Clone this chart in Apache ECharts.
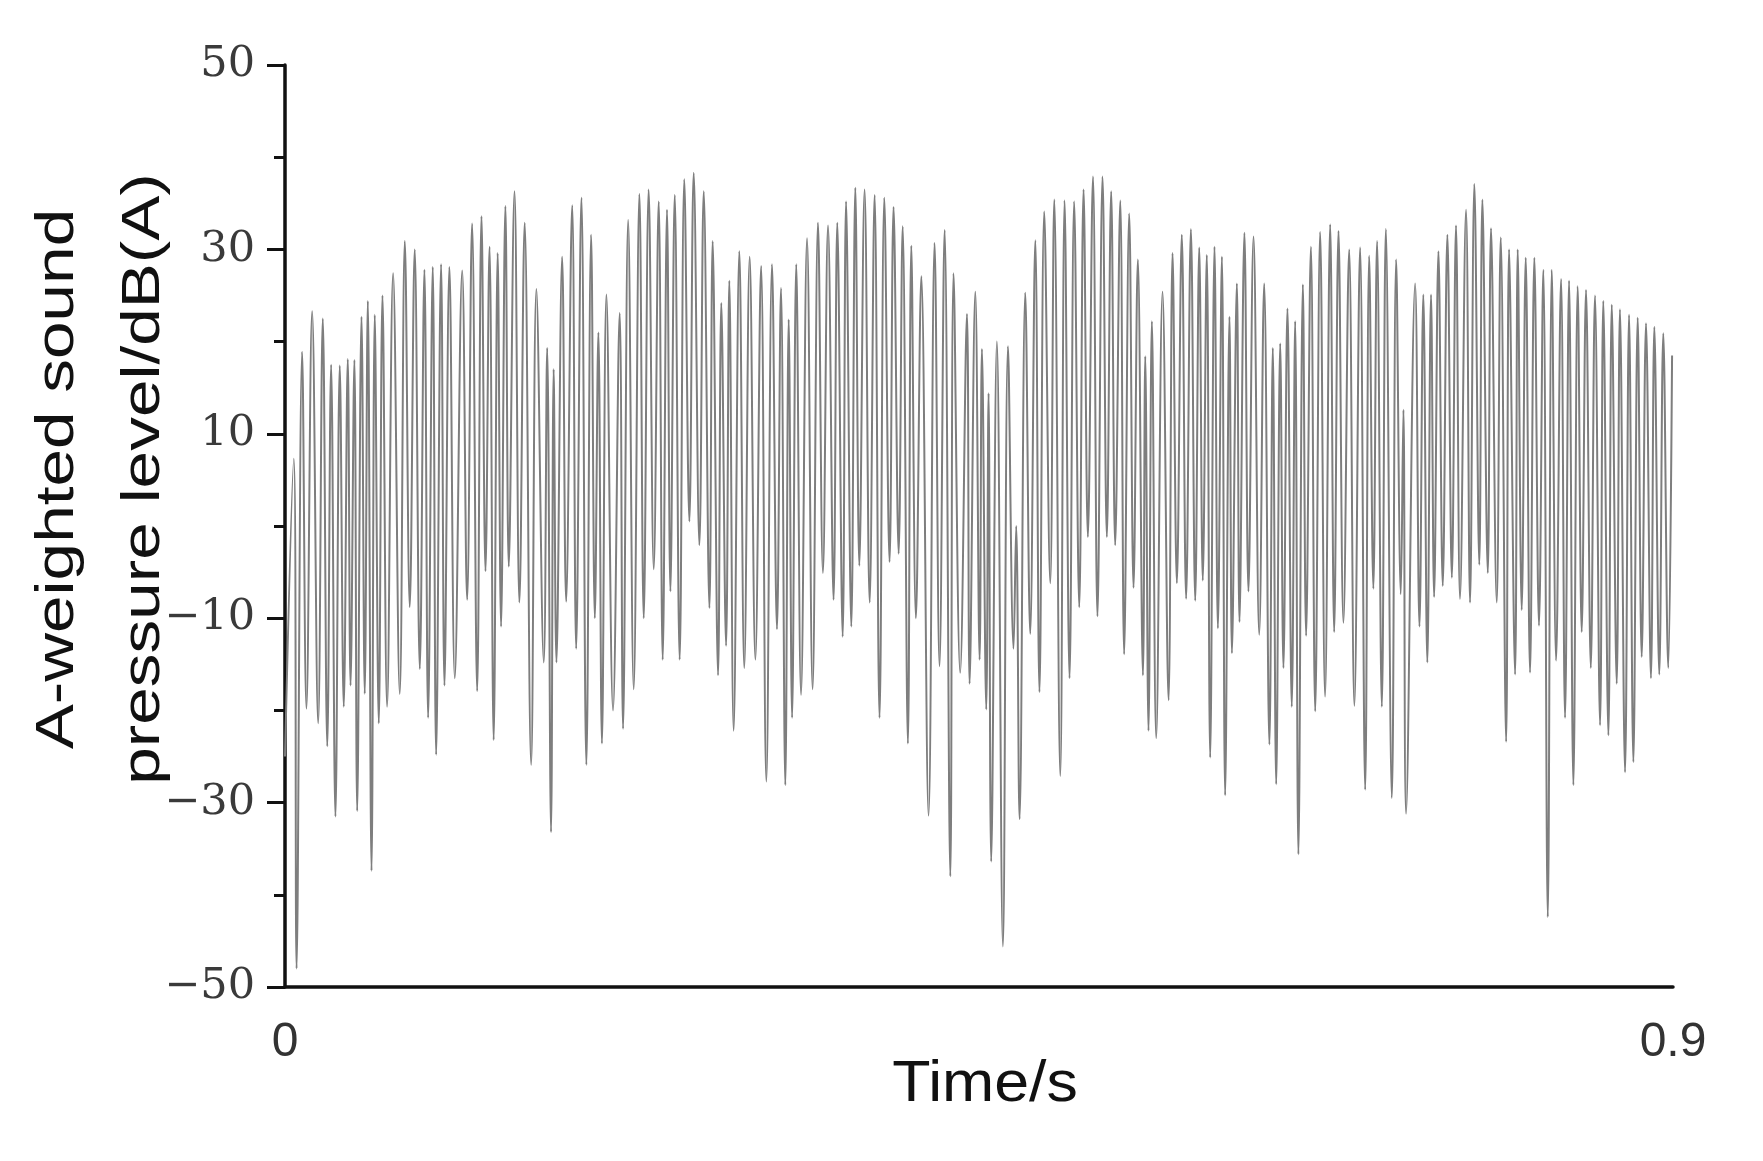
<!DOCTYPE html>
<html><head><meta charset="utf-8">
<script src="https://cdn.jsdelivr.net/npm/echarts@6/dist/echarts.min.js"></script>
<style>html,body{margin:0;padding:0;background:#fff}#c{width:1763px;height:1161px}</style>
</head><body><div id="c"></div>
<script>
// Turning points of the waveform (time in s)
const times = [
0.0000,0.0057,0.0075,0.0111,0.0139,0.0176,0.0215,0.0245,0.0274,0.0299,
0.0327,0.0355,0.0381,0.0407,0.0425,0.0450,0.0468,0.0496,0.0517,0.0537,
0.0561,0.0582,0.0608,0.0632,0.0662,0.0701,0.0744,0.0777,0.0809,0.0841,
0.0874,0.0904,0.0928,0.0958,0.0980,0.1012,0.1034,0.1066,0.1101,0.1149,
0.1181,0.1213,0.1246,0.1274,0.1300,0.1326,0.1353,0.1379,0.1401,0.1429,
0.1451,0.1488,0.1520,0.1554,0.1596,0.1630,0.1678,0.1700,0.1725,0.1742,
0.1760,0.1797,0.1823,0.1862,0.1888,0.1922,0.1954,0.1985,0.2009,0.2032,
0.2055,0.2084,0.2127,0.2170,0.2192,0.2225,0.2261,0.2298,0.2326,0.2358,
0.2391,0.2423,0.2449,0.2477,0.2499,0.2527,0.2559,0.2589,0.2622,0.2650,
0.2687,0.2715,0.2752,0.2773,0.2808,0.2829,0.2860,0.2881,0.2909,0.2946,
0.2978,0.3013,0.3050,0.3087,0.3121,0.3158,0.3190,0.3216,0.3244,0.3266,
0.3288,0.3315,0.3346,0.3385,0.3421,0.3456,0.3488,0.3521,0.3557,0.3581,
0.3616,0.3638,0.3672,0.3698,0.3724,0.3758,0.3791,0.3823,0.3855,0.3886,
0.3920,0.3946,0.3979,0.4005,0.4039,0.4061,0.4091,0.4126,0.4173,0.4212,
0.4244,0.4277,0.4314,0.4335,0.4378,0.4422,0.4439,0.4476,0.4504,0.4519,
0.4547,0.4562,0.4579,0.4616,0.4655,0.4688,0.4724,0.4741,0.4763,0.4800,
0.4832,0.4865,0.4892,0.4923,0.4962,0.4988,0.5027,0.5055,0.5087,0.5117,
0.5150,0.5178,0.5206,0.5239,0.5268,0.5301,0.5329,0.5357,0.5383,0.5416,
0.5441,0.5474,0.5502,0.5530,0.5563,0.5578,0.5599,0.5621,0.5649,0.5690,
0.5729,0.5755,0.5783,0.5815,0.5843,0.5874,0.5902,0.5928,0.5951,0.5977,
0.5999,0.6027,0.6049,0.6075,0.6096,0.6124,0.6140,0.6172,0.6189,0.6221,
0.6247,0.6280,0.6317,0.6349,0.6383,0.6405,0.6427,0.6453,0.6474,0.6500,
0.6528,0.6550,0.6571,0.6600,0.6621,0.6652,0.6680,0.6712,0.6744,0.6777,
0.6803,0.6831,0.6863,0.6900,0.6934,0.6971,0.7004,0.7030,0.7057,0.7081,
0.7112,0.7138,0.7177,0.7205,0.7235,0.7252,0.7269,0.7328,0.7356,0.7381,
0.7407,0.7431,0.7451,0.7479,0.7507,0.7537,0.7566,0.7593,0.7619,0.7658,
0.7684,0.7712,0.7744,0.7764,0.7799,0.7820,0.7857,0.7883,0.7918,0.7937,
0.7976,0.7993,0.8019,0.8045,0.8073,0.8101,0.8131,0.8159,0.8188,0.8214,
0.8242,0.8274,0.8300,0.8326,0.8354,0.8382,0.8408,0.8436,0.8467,0.8494,
0.8527,0.8548,0.8581,0.8603,0.8635,0.8656,0.8689,0.8715,0.8743,0.8771,
0.8797,0.8825,0.8857,0.8879,0.8911,0.8937,0.8969,0.8994
];
// A-weighted sound pressure level at those points, dB(A)
const levels = [
-25,7.3,-48,18.9,-19.8,23.3,-21.4,22.5,-23.9,17.5,
-31.5,17.4,-19.6,18.1,-17.3,18.0,-30.9,22.7,-18.2,24.4,
-37.4,22.9,-21.4,25.0,-19.6,27.4,-18.2,30.9,-8.8,30.0,
-15.5,27.8,-20.8,28.1,-24.8,28.4,-17.3,28.1,-16.5,27.7,
-8.0,32.8,-17.9,33.6,-4.9,30.3,-23.2,29.6,-10.9,34.7,
-4.4,36.3,-8.3,32.9,-25.9,25.7,-14.8,19.3,-33.2,17.0,
-14.8,29.2,-8.2,34.8,-13.3,35.6,-25.9,31.6,-10,21,
-23.6,25.1,-20,23.1,-22,33.2,-17.7,36.0,-10,36.5,
-4.7,35.2,-14.5,34.3,-7.1,35.9,-14.5,37.6,0.5,38.3,
-2.1,36.3,-8.9,30.9,-16.2,24.2,-13,26.6,-22.2,29.8,
-15.4,29.2,-14.5,28.2,-27.7,28.4,-11.2,25.8,-28.1,22.4,
-20.8,28.4,-18.3,31.2,-17.7,32.9,-5.1,32.6,-8,32.9,
-12,35.2,-10.9,36.7,-4.3,36.5,-8.3,35.9,-20.8,35.6,
-3.9,34.6,-3,32.5,-23.6,30.4,-10,27.1,-31.4,30.7,
-15.2,32.1,-38,27.4,-15.9,23.0,-17.1,25.4,-14.5,19.2,
-19.9,14.4,-36.4,20.0,-45.6,19.5,-13.3,0,-31.8,25.3,
-11.7,31.0,-18,34.1,-6.2,35.4,-27.1,35.3,-16.5,35.2,
-8.8,36.5,-1.2,37.9,-9.8,37.9,-1.2,36.3,-2.1,35.3,
-13.9,33.9,-6.7,28.9,-16.2,18.4,-22.2,22.2,-23,25.4,
-18.9,29.6,-6.2,31.6,-7.9,32.2,-8.1,30.2,-5.9,29.4,
-25.1,30.3,-11.1,29.2,-29.2,22.7,-13.8,26.3,-10.4,31.8,
-7.1,31.4,-11.8,26.3,-23.7,19.3,-28,19.8,-15.4,23.6,
-19.6,22.2,-35.6,26.2,-11.9,30.3,-20.1,31.9,-18.5,32.7,
-11.5,32.0,-10.5,30.0,-19.5,30.2,-28.6,29.3,-6.8,30.9,
-19.6,32.2,-29.5,28.9,-7.4,12.6,-31.2,26.3,-10.9,25.1,
-14.8,25.1,-7.7,29.8,-6.5,31.6,-5.6,32.6,-7.9,34.3,
-8.3,37.1,-4.2,35.4,-5.1,32.3,-8.3,31.3,-23.4,30.0,
-16.1,30.0,-9.1,29.1,-15.9,29.1,-10.8,27.8,-42.4,27.8,
-14.6,26.8,-20.8,26.6,-28.1,26.0,-11.5,25.6,-15.4,25.0,
-21.6,24.4,-22.7,24.0,-17.1,23.5,-26.7,22.9,-25.6,22.6,
-14.2,22.0,-16.5,21.6,-16.1,20.9,-15.4,18.5
];
const xRange = [0, 0.9];
const xTickLabels = ['0', '0.9'];
const yRange = [-50, 50];
const yStep = 20;
const yTitleLines = ['A-weighted sound', 'pressure level/dB(A)'];
const xTitle = 'Time/s';

const chart = echarts.init(document.getElementById('c'), null, {renderer: 'canvas'});
const seriesData = times.map((t, i) => [t, levels[i]]);
chart.setOption({
  animation: false,
  backgroundColor: '#fff',
  grid: {left: 285, right: 90, top: 65, bottom: 174, containLabel: false},
  xAxis: {
    type: 'value', min: xRange[0], max: xRange[1], interval: xRange[1] - xRange[0],
    axisLine: {show: true, onZero: false, lineStyle: {color: '#111', width: 3.5}},
    axisTick: {show: false},
    splitLine: {show: false},
    axisLabel: {
      margin: 32, color: '#333', fontFamily: 'Liberation Sans Narrow, Liberation Sans, sans-serif', fontSize: 48,
      formatter: v => (Math.abs(v - xRange[0]) < 1e-9 ? xTickLabels[0] : xTickLabels[1])
    }
  },
  yAxis: {
    type: 'value', min: yRange[0], max: yRange[1], interval: yStep,
    axisLine: {show: true, onZero: false, lineStyle: {color: '#111', width: 3.5}},
    axisTick: {show: true, inside: false, length: 18, lineStyle: {color: '#111', width: 3}},
    minorTick: {show: true, splitNumber: 2, length: 11, lineStyle: {color: '#111', width: 3}},
    splitLine: {show: false},
    axisLabel: {
      margin: 30, color: '#3a3a3a', fontFamily: 'DejaVu Serif, serif', fontSize: 43,
      formatter: v => String(v).replace('-', '\u2212')
    }
  },
  series: [{
    type: 'line', data: seriesData, showSymbol: false, symbol: 'none',
    sampling: null, smooth: 0.4,
    lineStyle: {color: '#7e7e7e', width: 2},
    silent: true
  }],
  graphic: [
    {type: 'text', x: 101, y: 479, rotation: Math.PI / 2, scaleX: 1.25, scaleY: 1,
     style: {text: yTitleLines.join('\n'), font: '54px "Liberation Sans", Arial, sans-serif',
             fill: '#111', textAlign: 'center', textVerticalAlign: 'middle', lineHeight: 86}},
    {type: 'text', x: 985, y: 1085, scaleX: 1.08, scaleY: 1,
     style: {text: xTitle, font: '58px "Liberation Sans", Arial, sans-serif',
             fill: '#111', textAlign: 'center', textVerticalAlign: 'middle'}}
  ]
});
</script>
</body></html>
